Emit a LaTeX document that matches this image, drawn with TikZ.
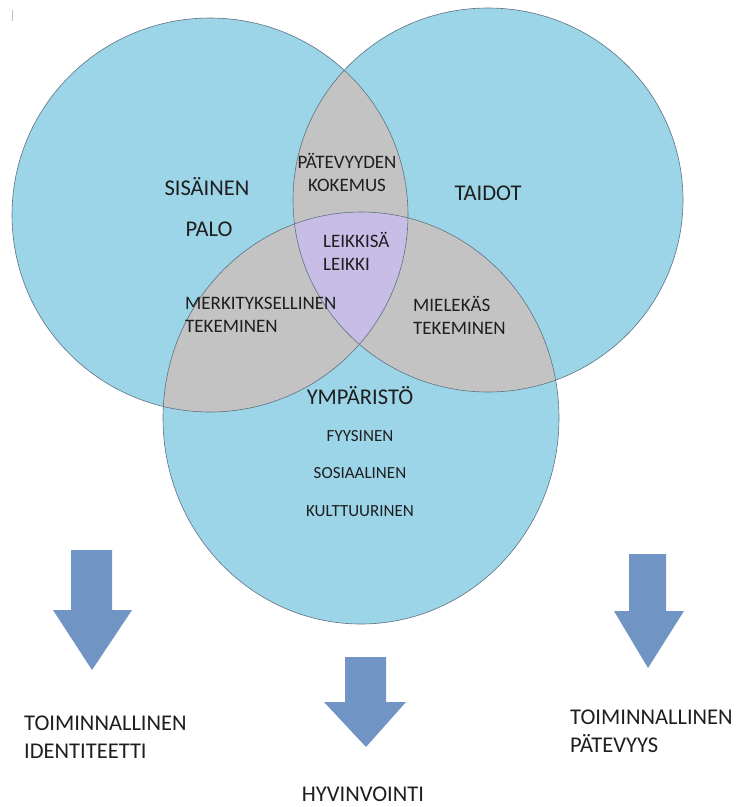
\documentclass[tikz,border=0pt]{standalone}
\usepackage{fontspec}
\setmainfont{Carlito}
\definecolor{vennblue}{HTML}{9CD5E8}
\definecolor{venngray}{HTML}{C3C3C3}
\definecolor{vennpurple}{HTML}{C8BDE6}
\definecolor{vennline}{HTML}{5E7283}
\definecolor{arrowblue}{HTML}{7094C4}
\definecolor{txt}{HTML}{1E1E1E}
\tikzset{
  vennedge/.style={draw=vennline, line width=0.6pt},
  lbl/.style={inner sep=0pt, text=txt},
  big/.style={lbl, font=\fontsize{22.5pt}{28pt}\selectfont},
  mid/.style={lbl, font=\fontsize{19pt}{23pt}\selectfont},
  small/.style={lbl, font=\fontsize{17pt}{20pt}\selectfont},
  blockarrow/.style={fill=arrowblue, draw=none},
}
\begin{document}
\begin{tikzpicture}[x=1pt, y=-1pt]
\useasboundingbox (0,0) rectangle (738,807);
\fill[white] (0,0) rectangle (738,807);
% circles
\def\leftC{(210,215) ellipse [x radius=198pt, y radius=197pt]}
\def\rightC{(488,200) ellipse [x radius=195pt, y radius=192pt]}
\def\bottomC{(361,418) ellipse [x radius=198pt, y radius=206pt]}
\fill[vennblue] \leftC;
\fill[vennblue] \rightC;
\fill[vennblue] \bottomC;
\begin{scope}\clip \leftC; \fill[venngray] \rightC; \end{scope}
\begin{scope}\clip \leftC; \fill[venngray] \bottomC; \end{scope}
\begin{scope}\clip \rightC; \fill[venngray] \bottomC; \end{scope}
\begin{scope}\clip \leftC; \clip \rightC; \fill[vennpurple] \bottomC; \end{scope}
\draw[vennedge] \leftC;
\draw[vennedge] \rightC;
\draw[vennedge] \bottomC;
% stray mark
\draw[black!25, line width=0.8pt] (12,10) -- (12,21);
% labels in circles
\node[big] (sisainen) at (207,187) {SISÄINEN};
\node[big] (palo) at (209,229) {PALO};
\node[big] (taidot) at (488,193) {TAIDOT};
\node[mid, align=center] (patevyyden) at (347,172) {PÄTEVYYDEN\\KOKEMUS};
\node[mid, align=left, anchor=west] (leikkisa) at (323,251) {LEIKKISÄ\\LEIKKI};
\node[mid, align=left, anchor=west] (merkityksellinen) at (185,315) {MERKITYKSELLINEN\\TEKEMINEN};
\node[mid, align=left, anchor=west] (mielekas) at (413,315) {MIELEKÄS\\TEKEMINEN};
\node[big] (ymparisto) at (360,396) {YMPÄRISTÖ};
\node[small] (fyysinen) at (360,436) {FYYSINEN};
\node[small] (sosiaalinen) at (360,473) {SOSIAALINEN};
\node[small] (kulttuurinen) at (360,511) {KULTTUURINEN};
% block arrows
\fill[blockarrow] (71,550) -- (112,550) -- (112,610) -- (132,610) -- (92,670) -- (53,610) -- (71,610) -- cycle;
\fill[blockarrow] (345,657) -- (386,657) -- (386,702) -- (406,702) -- (366,747) -- (324,702) -- (345,702) -- cycle;
\fill[blockarrow] (629,554) -- (666,554) -- (666,611) -- (684,611) -- (648,668) -- (614,611) -- (629,611) -- cycle;
% outcome labels
\node[big, align=left, anchor=west] (identiteetti) at (24,737) {TOIMINNALLINEN\\IDENTITEETTI};
\node[big] (hyvinvointi) at (363,794) {HYVINVOINTI};
\node[big, align=left, anchor=west] (patevyys) at (570,731) {TOIMINNALLINEN\\PÄTEVYYS};
\end{tikzpicture}
\end{document}
